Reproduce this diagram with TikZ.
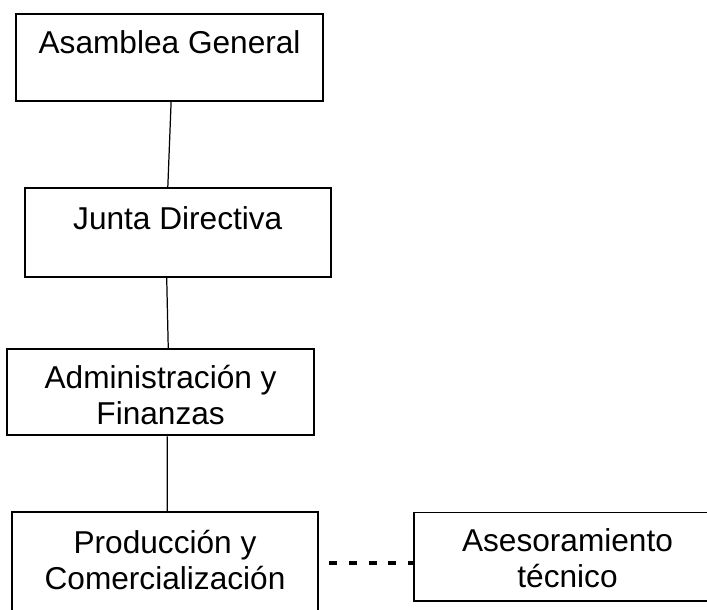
\documentclass[tikz,border=0pt]{standalone}
\usepackage{fontspec}
\setmainfont{Liberation Sans}
\tikzset{
  caja/.style={draw, line width=1.1pt, inner sep=0pt, minimum width=6.13cm, anchor=north,
    align=center, font=\fontsize{18}{20.8}\selectfont, text height=0.8cm, text depth=0.95cm},
  enlace/.style={line width=0.7pt},
  apoyo/.style={line width=1.8pt, dash pattern=on 4.7pt off 6.5pt, shorten <=0.2cm}
}
\begin{document}
\begin{tikzpicture}[x=0.02cm,y=-0.02cm]
\useasboundingbox (0,0) rectangle (707,609);
\clip (0,0) rectangle (707,609);

\node[caja] (asamblea) at (169.6,12.7) {Asamblea General};
\node[caja, text height=0.82cm, text depth=0.954cm] (junta) at (177.8,187.3) {Junta Directiva};
\node[caja, text height=1.52cm, text depth=0.21cm] (admin) at (160.6,348) {Administración y\\Finanzas};
\node[caja, text height=1.56cm, text depth=0.84cm] (prod) at (165,511) {Producción y\\Comercialización};
\node[caja, text height=1.504cm, text depth=0.266cm] (asesor) at (567.5,511.5) {Asesoramiento\\técnico};

\draw[enlace] ([xshift=0.03cm]asamblea.south) -- ([xshift=-0.2cm]junta.north);
\draw[enlace] ([xshift=-0.222cm]junta.south) -- ([xshift=0.153cm]admin.north);
\draw[enlace] ([xshift=0.133cm]admin.south) -- ([xshift=0.046cm]prod.north);

\coordinate (punto) at ([yshift=-0.125cm]asesor.west);
\draw[apoyo] (prod.east |- punto) -- (punto);
\end{tikzpicture}
\end{document}
